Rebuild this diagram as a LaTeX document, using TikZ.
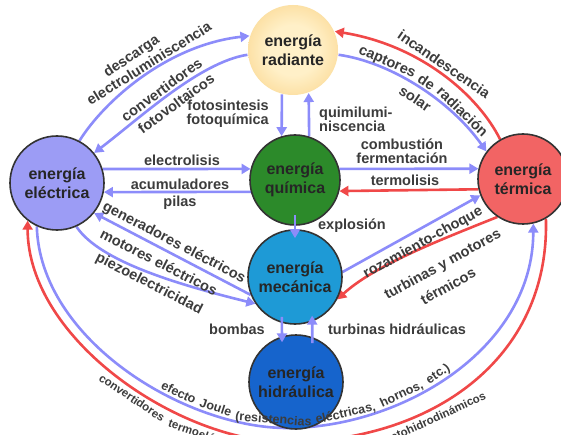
\documentclass[tikz,border=0pt]{standalone}
\usepackage{fontspec}
\setmainfont{Liberation Sans}
\usetikzlibrary{arrows.meta,decorations.markings}
\pgfdeclarelayer{bg}
\pgfsetlayers{bg,main}
\definecolor{lineblue}{RGB}{140,140,250}
\definecolor{linered}{RGB}{240,72,72}
\definecolor{labelgray}{RGB}{60,60,60}
\definecolor{radin}{RGB}{255,240,200}
\definecolor{radout}{RGB}{246,190,88}
\definecolor{elefill}{RGB}{156,156,245}
\definecolor{quifill}{RGB}{44,138,42}
\definecolor{mecfill}{RGB}{30,154,214}
\definecolor{hidfill}{RGB}{22,100,204}
\definecolor{terfill}{RGB}{242,100,100}
\pgfdeclareradialshading{radsh}{\pgfpoint{0bp}{0bp}}{color(0bp)=(radin); color(14bp)=(radin); color(50bp)=(radout); color(72bp)=(radout)}
\newcommand\lblfont{\fontsize{14.5}{14}\selectfont\bfseries}
\newcommand\jfont{\fontsize{12.5}{13}\selectfont\bfseries}
\newcommand\cfont{\fontsize{11.5}{12}\selectfont\bfseries}
\newcommand\circfont{\fontsize{16}{18.5}\selectfont\bfseries}
\begin{document}
\begin{tikzpicture}[x=1pt,y=-1pt,
  bl/.style={draw=lineblue,line width=2.6pt,-{Triangle[length=9pt,width=10pt]}},
  rd/.style={draw=linered,line width=2.6pt,-{Triangle[length=9pt,width=10pt]}},
  lbl/.style={font=\lblfont,text=labelgray,inner sep=0pt},
  en/.style={circle,draw=black!80,line width=1.6pt,font=\circfont,text=black!85,align=center,inner sep=0pt},
  wa/.style={transform shape,font=\lblfont,text=labelgray,inner sep=0pt,anchor=base,yshift=3pt},
  wb/.style={transform shape,font=\lblfont,text=labelgray,inner sep=0pt,anchor=north,yshift=-6pt},
  wj/.style={transform shape,font=\jfont,text=labelgray,inner sep=0pt,anchor=base,yshift=4pt},
  wc/.style={transform shape,font=\cfont,text=labelgray,inner sep=0pt,anchor=base,yshift=-13pt}]
\useasboundingbox (0,0) rectangle (561,435);
\begin{pgfonlayer}{bg}
\fill[white] (0,0) rectangle (561,435);
\end{pgfonlayer}

% energy circles
\node[en,minimum size=90pt,draw=none,shade,shading=radsh] (rad) at (293,50) {energía\\radiante};
\node[en,minimum size=94pt,fill=elefill] (ele) at (57,183) {energía\\eléctrica};
\node[en,minimum size=90pt,fill=quifill] (qui) at (295,180) {energía\\química};
\node[en,minimum size=94pt,fill=mecfill] (mec) at (295,277) {energía\\mecánica};
\node[en,minimum size=94pt,fill=hidfill] (hid) at (296,382) {energía\\hidráulica};
\node[en,minimum size=90pt,fill=terfill] (ter) at (523,179) {energía\\térmica};

% connectors behind the circles
\begin{pgfonlayer}{bg}
\draw[bl] (ele.62) .. controls (105,100) and (168,45) .. (rad.162);
\draw[bl] (rad.186) .. controls (200,62) and (140,118) .. (ele.39);
\draw[rd] (ter.120) .. controls (478,95) and (420,45) .. (rad.24);
\draw[bl] (rad.-6) .. controls (390,62) and (450,100) .. (ter.143);
\draw[bl] (ele.17) -- (qui.166);
\draw[bl] (qui.195) -- (ele.349);
\draw[bl] (qui.14) -- (ter.167);
\draw[rd] (ter.193) -- (qui.346);
\draw[bl] (rad.256) -- (qui.107);
\draw[bl] (qui.72) -- (rad.290);
\draw[bl] (mec.6) -- (ter.201);
\draw[rd] (ter.236) .. controls (440,240) and (375,265) .. (mec.332);
\draw[bl] (mec.202) -- (ele.321);
\draw[bl] (ele.294) .. controls (100,262) and (180,285) .. (mec.214);
\draw[bl] (ele.245) .. controls (40,340) and (185,428) .. (287,428) .. controls (400,428) and (533,350) .. (ter.283);
\draw[rd] (ter.300) .. controls (550,360) and (430,442) .. (287,442) .. controls (180,442) and (28,340) .. (ele.232);
\end{pgfonlayer}

% short arrows over the circles
\draw[bl] ([yshift=11pt]qui.south) -- ([yshift=-9pt]mec.north);
\draw[bl] ([yshift=6pt]mec.254) -- ([yshift=-6pt]hid.107);
\draw[bl] ([yshift=-6pt]hid.70) -- ([yshift=6pt]mec.291);

% straight labels
\node[lbl,anchor=east,align=right] (tfoto) at (269,114) {fotosintesis\\fotoquímica};
\node[lbl,anchor=west,align=left] (tquimi) at (319,119) {quimilumi-\\niscencia};
\node[lbl] (telec) at (182,160) {electrolisis};
\node[lbl] (tacum) at (180,184) {acumuladores};
\node[lbl] (tpilas) at (180,203) {pilas};
\node[lbl,align=center] (tcomb) at (402,151) {combustión\\fermentación};
\node[lbl] (tterm) at (405,180) {termolisis};
\node[lbl] (texpl) at (352,226) {explosión};
\node[lbl] (tbomb) at (237,329) {bombas};
\node[lbl] (tturb) at (397,329) {turbinas hidráulicas};
\node[lbl,rotate=29] (troz) at (423,243) {rozamiento-choque};
\node[lbl,rotate=29] (tturbm) at (443,265) {turbinas y motores};
\node[lbl,rotate=29] (ttermi) at (448,286) {térmicos};
\node[lbl,rotate=-27.5] (tgen) at (174,243) {generadores eléctricos};
\node[lbl,rotate=-27] (tmot) at (159,262) {motores eléctricos};
\node[lbl,rotate=-27] (tpiezo) at (149,284) {piezoelectricidad};

% labels that follow the arcs
\path[decorate,decoration={markings,
  mark=at position 0.5 with {\node[wa] (tA1) {electroluminiscencia};},
  mark=at position 0.45 with {\node[wa,yshift=16pt] (tA2) {descarga};}}]
  (ele.62) .. controls (105,100) and (168,45) .. (rad.162);
\path[decorate,decoration={markings,
  mark=at position 0.5 with {\node[wa] (tB1) {convertidores};},
  mark=at position 0.52 with {\node[wb] (tB2) {fotovoltaicos};}}]
  (ele.39) .. controls (140,118) and (200,62) .. (rad.186);
\path[decorate,decoration={markings,
  mark=at position 0.55 with {\node[wa,yshift=1.5pt] (tC1) {incandescencia};}}]
  (rad.24) .. controls (420,45) and (478,95) .. (ter.120);
\path[decorate,decoration={markings,
  mark=at position 48pt with {\node[wa] (tD1) {captores};},
  mark=at position 91pt with {\node[wa] (tD2) {de};},
  mark=at position 136pt with {\node[wa] (tD3) {radiación};},
  mark=at position 0.5 with {\node[wb] (tD4) {solar};}}]
  (rad.-6) .. controls (390,62) and (450,100) .. (ter.143);
\path[decorate,decoration={markings,
  mark=at position 233pt with {\node[wj] (tJ1) {efecto};},
  mark=at position 274pt with {\node[wj] (tJ2) {Joule};},
  mark=at position 335pt with {\node[wj] (tJ3) {(resistencias};},
  mark=at position 410pt with {\node[wj] (tJ4) {eléctricas,};},
  mark=at position 471pt with {\node[wj] (tJ5) {hornos,};},
  mark=at position 514pt with {\node[wj] (tJ6) {etc.)};}}]
  (ele.245) .. controls (40,340) and (185,428) .. (287,428) .. controls (400,428) and (533,350) .. (ter.283);
\path[decorate,decoration={markings,
  mark=at position 210pt with {\node[wc] (tK1) {convertidores};},
  mark=at position 296pt with {\node[wc] (tK2) {termoeléctricos,};},
  mark=at position 383pt with {\node[wc] (tK3) {termoiónicos};},
  mark=at position 428pt with {\node[wc] (tK4) {y};},
  mark=at position 508pt with {\node[wc] (tK5) {magnetohidrodinámicos};}}]
  (ele.232) .. controls (28,340) and (180,442) .. (287,442) .. controls (430,442) and (550,360) .. (ter.300);
\end{tikzpicture}
\end{document}
